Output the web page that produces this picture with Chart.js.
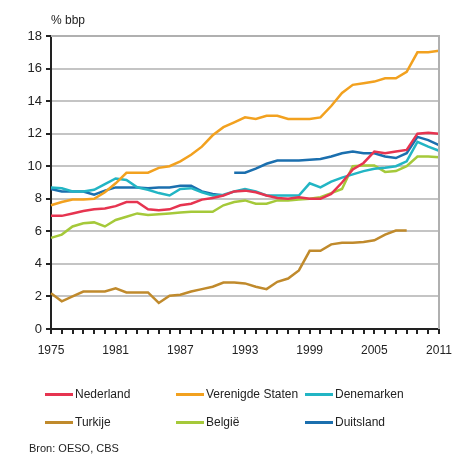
<!DOCTYPE html>
<html>
<head>
<meta charset="utf-8">
<script src="https://cdn.jsdelivr.net/npm/chart.js@4"></script>
<style>
  body { margin: 0; background: #fff; font-family: "Liberation Sans", Arial, sans-serif; color: #222; }
  #wrap { position: relative; width: 462px; height: 454px; }
  #unit { position: absolute; left: 51px; top: 13px; font-size: 12px; }
  #legend { position: absolute; left: 0; top: 387px; width: 462px; font-size: 12px; }
  .item { position: absolute; display: flex; align-items: center; white-space: nowrap; }
  .item span.swatch { display: inline-block; width: 28px; height: 3px; margin-right: 2px; }
  #bron { position: absolute; left: 29px; top: 442px; font-size: 11px; }
</style>
</head>
<body>
<div id="wrap">
  <canvas id="chart" width="462" height="454"></canvas>
  <div id="unit">% bbp</div>
  <div id="legend"></div>
  <div id="bron">Bron: OESO, CBS</div>
</div>
<script>
// jaren
const years = [];
for (let y = 1975; y <= 2011; y++) years.push(y);

const nederland = [6.95, 6.95, 7.1, 7.25, 7.35, 7.4, 7.55, 7.8, 7.8, 7.35, 7.3, 7.35, 7.6, 7.7, 7.95, 8.05, 8.2, 8.45, 8.5, 8.4,
  8.2, 8.05, 8.0, 8.1, 8.0, 8.0, 8.3, 9.0, 9.8, 10.2, 10.9, 10.8, 10.9, 11.0, 12.0, 12.05, 12.0];
const verenigdeStaten = [7.6, 7.8, 7.95, 7.95, 8.0, 8.4, 8.95, 9.6, 9.6, 9.6, 9.9, 10.0, 10.3, 10.7, 11.2, 11.9, 12.4, 12.7, 13.0, 12.9,
  13.1, 13.1, 12.9, 12.9, 12.9, 13.0, 13.7, 14.5, 15.0, 15.1, 15.2, 15.4, 15.4, 15.8, 17.0, 17.0, 17.1];
const denemarken = [8.7, 8.65, 8.45, 8.45, 8.55, 8.9, 9.25, 9.15, 8.7, 8.55, 8.35, 8.2, 8.6, 8.65, 8.4, 8.2, 8.25, 8.45, 8.6, 8.45,
  8.2, 8.2, 8.2, 8.2, 8.95, 8.7, 9.05, 9.3, 9.5, 9.7, 9.85, 9.9, 10.0, 10.3, 11.5, 11.2, 10.95];
const turkije = [2.2, 1.7, 2.0, 2.3, 2.3, 2.3, 2.5, 2.25, 2.25, 2.25, 1.6, 2.05, 2.1, 2.3, 2.45, 2.6, 2.85, 2.85, 2.8, 2.6,
  2.45, 2.9, 3.1, 3.6, 4.8, 4.8, 5.2, 5.3, 5.3, 5.35, 5.45, 5.8, 6.05, 6.05, null, null, null];
const belgie = [5.6, 5.8, 6.3, 6.5, 6.55, 6.3, 6.7, 6.9, 7.1, 7.0, 7.05, 7.1, 7.15, 7.2, 7.2, 7.2, 7.6, 7.8, 7.9, 7.7,
  7.7, 7.9, 7.9, 7.95, 8.0, 8.1, 8.35, 8.6, 10.0, 10.05, 10.05, 9.65, 9.7, 10.0, 10.6, 10.6, 10.55];
const duitsland = [8.6, 8.45, 8.45, 8.45, 8.25, 8.5, 8.7, 8.7, 8.7, 8.65, 8.7, 8.7, 8.8, 8.8, 8.45, 8.3, 8.2, 9.6, 9.6, 9.85,
  10.15, 10.35, 10.35, 10.35, 10.4, 10.45, 10.6, 10.8, 10.9, 10.8, 10.8, 10.6, 10.5, 10.8, 11.8, 11.6, 11.3];
// breuk in de reeks Duitsland (hereniging): geen lijn tussen 1991 en 1992
const duitslandBreak = years.indexOf(1991);

const yTicks = [0, 2, 4, 6, 8, 10, 12, 14, 16, 18];

const series = [
  { label: 'Nederland', data: nederland, color: '#e63450' },
  { label: 'Verenigde Staten', data: verenigdeStaten, color: '#f2a11f' },
  { label: 'Denemarken', data: denemarken, color: '#22b5c4' },
  { label: 'Turkije', data: turkije, color: '#c08a2c' },
  { label: 'België', data: belgie, color: '#a5c93a' },
  { label: 'Duitsland', data: duitsland, color: '#1b6fae' }
];

const datasets = series.map(s => {
  const ds = {
    label: s.label,
    data: s.data,
    borderColor: s.color,
    backgroundColor: s.color,
    borderWidth: 2.5,
    pointRadius: 0,
    tension: 0,
    spanGaps: false
  };
  if (s.label === 'Duitsland') {
    ds.segment = {
      borderColor: ctx => ctx.p0DataIndex === duitslandBreak ? 'rgba(0,0,0,0)' : s.color
    };
  }
  return ds;
});

const chart = new Chart(document.getElementById('chart'), {
  type: 'line',
  data: { labels: years, datasets: datasets },
  options: {
    responsive: false,
    animation: false,
    layout: { padding: { top: 36, right: 23, bottom: 95, left: 0 } },
    plugins: { legend: { display: false }, tooltip: { enabled: false } },
    scales: {
      x: {
        offset: false,
        grid: {
          drawOnChartArea: true,
          color: ctx => ctx.index === years.length - 1 ? '#b0b0b0' : 'rgba(0,0,0,0)',
          tickColor: '#222',
          tickLength: 5,
          lineWidth: 2
        },
        border: { color: '#222', width: 2 },
        ticks: {
          autoSkip: false,
          maxRotation: 0,
          color: '#222',
          font: { family: 'Liberation Sans', size: 12 },
          padding: 9,
          callback: function(val, i) {
            const y = years[i];
            return (y - 1975) % 6 === 0 ? String(y) : '';
          }
        },
        afterFit: scale => { scale.height = 30; }
      },
      y: {
        min: 0,
        max: 18,
        afterBuildTicks: scale => { scale.ticks = yTicks.map(v => ({ value: v })); },
        grid: { color: '#c4c4c4', lineWidth: 2, tickColor: '#222', tickLength: 5 },
        border: { color: '#222', width: 2 },
        ticks: {
          color: '#222',
          font: { family: 'Liberation Sans', size: 13 },
          padding: 4
        },
        afterFit: scale => { scale.width = 51; }
      }
    }
  },
  plugins: [{
    id: 'topBorder',
    afterDraw(c) {
      const a = c.chartArea, g = c.ctx;
      g.save();
      g.strokeStyle = '#b0b0b0';
      g.lineWidth = 2;
      g.beginPath();
      g.moveTo(a.left, a.top);
      g.lineTo(a.right, a.top);
      g.lineTo(a.right, a.bottom);
      g.stroke();
      g.restore();
    }
  }]
});

// legenda in drie kolommen, twee rijen
const legendPos = [
  [45, 0], [176, 0], [305, 0],
  [45, 28], [176, 28], [305, 28]
];
const legend = document.getElementById('legend');
chart.data.datasets.forEach((ds, i) => {
  const el = document.createElement('div');
  el.className = 'item';
  el.style.left = legendPos[i][0] + 'px';
  el.style.top = legendPos[i][1] + 'px';
  el.innerHTML = '<span class="swatch" style="background:' + ds.borderColor + '"></span>' + ds.label;
  legend.appendChild(el);
});
</script>
</body>
</html>
